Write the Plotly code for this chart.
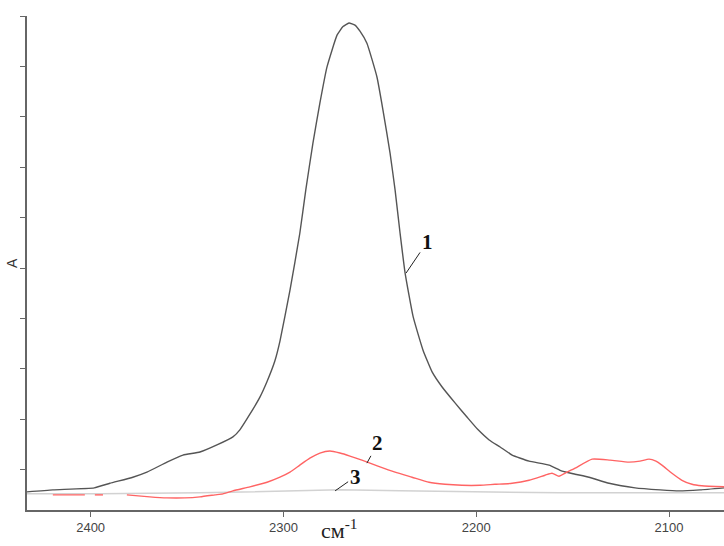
import plotly.graph_objects as go

# Wavenumber (cm-1) and absorbance readings for the three spectra
wn_1 = [2433.0, 2419.6, 2398.1, 2390.0, 2378.1, 2370.8, 2360.4, 2352.1, 2343.3, 2334.5,
        2326.2, 2322.6, 2317.4, 2312.2, 2308.5, 2304.5, 2301.8, 2296.6, 2291.5, 2288.4,
        2284.7, 2281.1, 2277.4, 2272.2, 2269.1, 2266.0, 2262.9, 2260.3, 2256.7, 2251.5,
        2248.4, 2244.7, 2242.1, 2239.5, 2236.9, 2232.7, 2227.6, 2222.9, 2217.7, 2210.9,
        2204.7, 2199.0, 2193.3, 2187.6, 2181.4, 2172.6, 2162.2, 2155.5, 2148.7, 2141.5,
        2131.1, 2117.6, 2104.6, 2094.8, 2083.9, 2071.4]
abs_1 = [0.056, 0.060, 0.064, 0.073, 0.085, 0.095, 0.115, 0.129, 0.135, 0.149,
         0.165, 0.179, 0.210, 0.244, 0.275, 0.315, 0.355, 0.456, 0.569, 0.655,
         0.748, 0.827, 0.899, 0.962, 0.979, 0.986, 0.982, 0.970, 0.946, 0.879,
         0.814, 0.728, 0.655, 0.569, 0.490, 0.403, 0.337, 0.294, 0.264, 0.232,
         0.204, 0.179, 0.159, 0.145, 0.129, 0.117, 0.109, 0.097, 0.091, 0.085,
         0.073, 0.064, 0.060, 0.058, 0.060, 0.064]

wn_2 = [2419.6, 2403.0, None, 2397.8, 2393.6, None,
        2381.2, 2369.3, 2360.4, 2351.1, 2343.3, 2335.5, 2331.4, 2326.2, 2317.4, 2308.5,
        2301.8, 2296.6, 2291.5, 2286.3, 2281.1, 2275.9, 2270.7, 2265.5, 2259.3, 2251.0,
        2242.1, 2233.3, 2224.5, 2216.2, 2207.4, 2198.0, 2190.3, 2181.4, 2172.6, 2164.3,
        2160.7, 2157.1, 2152.9, 2148.7, 2139.9, 2130.6, 2120.8, 2115.1, 2110.4, 2106.8,
        2103.7, 2098.5, 2093.3, 2088.1, 2083.0, 2071.4]
abs_2 = [0.050, 0.050, None, 0.050, 0.050, None,
         0.050, 0.046, 0.044, 0.044, 0.046, 0.050, 0.052, 0.058, 0.066, 0.075,
         0.085, 0.095, 0.109, 0.123, 0.133, 0.137, 0.133, 0.127, 0.119, 0.107,
         0.095, 0.085, 0.075, 0.071, 0.069, 0.069, 0.071, 0.073, 0.079, 0.089,
         0.093, 0.087, 0.095, 0.103, 0.121, 0.119, 0.115, 0.117, 0.121, 0.117,
         0.109, 0.093, 0.079, 0.071, 0.068, 0.066]

wn_3 = [2433.0, 2395.2, 2343.3, 2301.8, 2270.7, 2239.5, 2198.0, 2156.5, 2115.1, 2071.4]
abs_3 = [0.052, 0.052, 0.054, 0.058, 0.060, 0.058, 0.056, 0.054, 0.054, 0.054]

x_ticks = [2400, 2300, 2200, 2100]
y_ticks = [0.1, 0.2, 0.3, 0.4, 0.5, 0.6, 0.7, 0.8, 0.9, 1.0]

# Curve labels: (text, wavenumber on curve, absorbance on curve, text offset px)
curve_labels = [("1", 2236.4, 0.490, 21, -31),
                ("2", 2256.7, 0.113, 11, -20),
                ("3", 2273.2, 0.058, 20, -14)]

fig = go.Figure()
fig.add_trace(go.Scatter(x=wn_3, y=abs_3, mode="lines",
                         line=dict(color="#d2d2d2", width=1.5), hoverinfo="skip"))
fig.add_trace(go.Scatter(x=wn_1, y=abs_1, mode="lines",
                         line=dict(color="#555555", width=1.4, shape="spline", smoothing=0.4)))
fig.add_trace(go.Scatter(x=wn_2, y=abs_2, mode="lines", connectgaps=False,
                         line=dict(color="#ff6464", width=1.4, shape="spline", smoothing=0.5)))

for text, xv, yv, dx, dy in curve_labels:
    fig.add_annotation(x=xv, y=yv, text="<b>%s</b>" % text, showarrow=True,
                       arrowhead=0, arrowwidth=1, arrowcolor="#222222",
                       ax=dx, ay=dy, standoff=0,
                       font=dict(family="Liberation Serif", size=21, color="#111111"))

# Axis titles
fig.add_annotation(xref="paper", yref="paper", x=-0.0215, y=0.5, text="A",
                   textangle=-90, showarrow=False, xanchor="center", yanchor="middle",
                   font=dict(family="Liberation Sans", size=14, color="#333333"))
fig.add_annotation(xref="paper", yref="paper", x=0.449, y=-0.006,
                   text="см<sup>-1</sup>", showarrow=False,
                   xanchor="center", yanchor="top",
                   font=dict(family="Liberation Serif", size=22, color="#222222"))

fig.update_layout(
    width=724, height=546,
    margin=dict(l=27, r=0, t=16, b=36),
    paper_bgcolor="white", plot_bgcolor="white",
    showlegend=False,
    xaxis=dict(range=[2433.0, 2071.5], tickvals=x_ticks, ticks="outside", ticklen=5,
               tickcolor="#666666", showline=True, linecolor="#666666", linewidth=1.5,
               showgrid=False, zeroline=False,
               tickfont=dict(family="Liberation Sans", size=13, color="#444444")),
    yaxis=dict(range=[0.02, 1.0], tickvals=y_ticks, ticks="outside", ticklen=5,
               tickcolor="#666666", showticklabels=False, showline=True,
               linecolor="#666666", linewidth=1.5, showgrid=False, zeroline=False),
)

fig.write_html("out.html")
